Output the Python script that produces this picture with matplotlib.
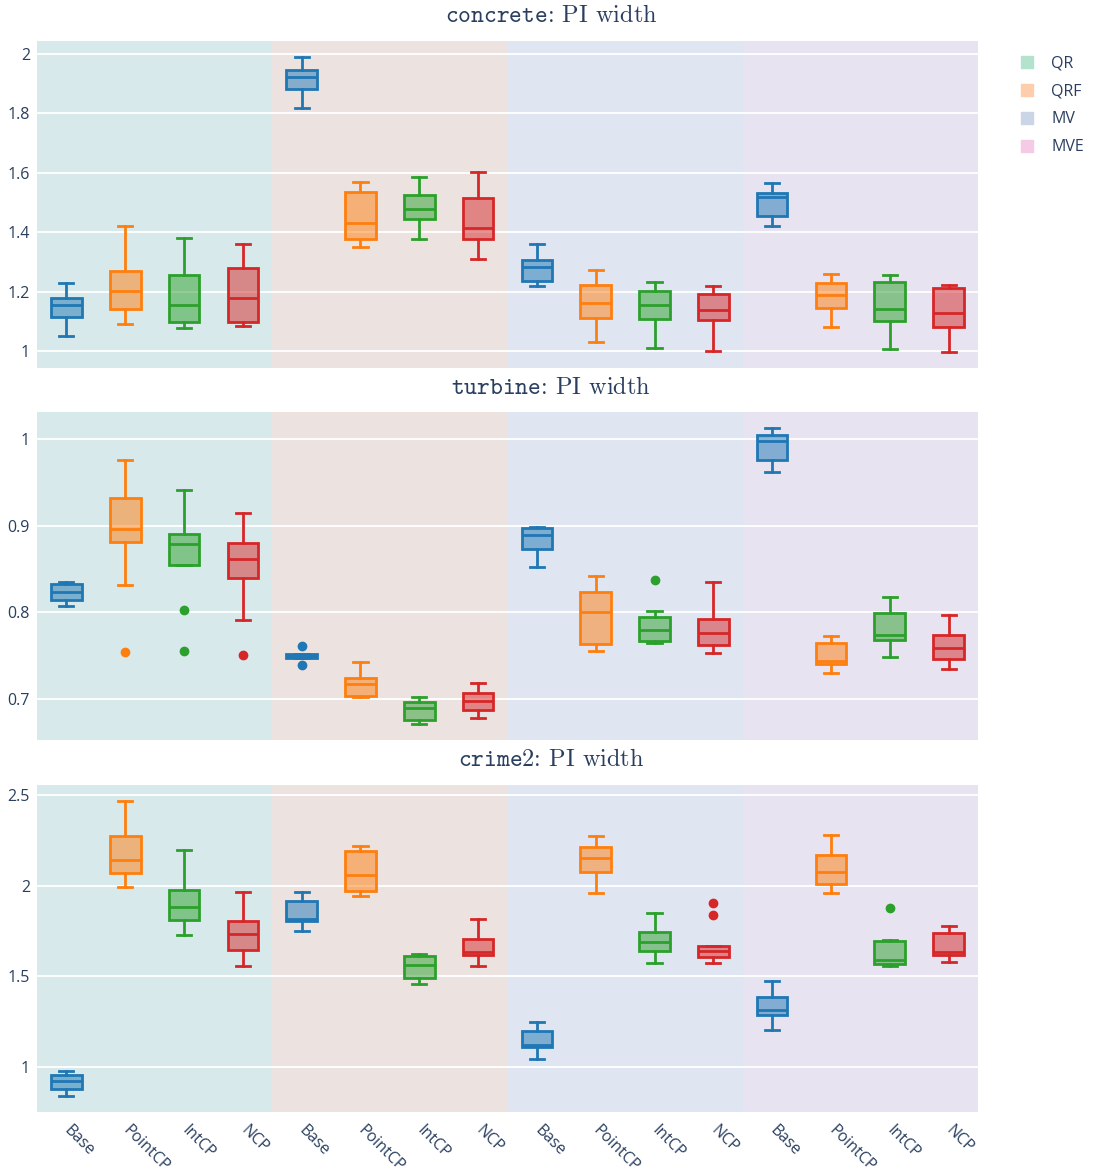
import matplotlib
matplotlib.use("Agg")
import matplotlib.pyplot as plt
from matplotlib.lines import Line2D
from matplotlib.colors import to_rgba
import matplotlib.ticker as mticker

plt.rcParams['font.family'] = ['Open Sans', 'DejaVu Sans']
plt.rcParams['mathtext.fontset'] = 'cm'

groups = ["QR", "QRF", "MV", "MVE"]
methods = ["Base", "PointCP", "IntCP", "NCP"]
group_bg = ["#d7e9ea", "#ece3e1", "#dfe5f1", "#e7e3f0"]
legend_colors = ["#b3e2cd", "#fdcdac", "#cbd5e8", "#f4cae4"]
method_colors = ["#1f77b4", "#ff7f0e", "#2ca02c", "#d62728"]

datasets = ["concrete", "turbine", "crime2"]

# each row: (whislo, q1, median, q3, whishi), order QR(Base,PointCP,IntCP,NCP), QRF(...), MV(...), MVE(...)
concrete_stats = [
    (1.050, 1.114, 1.155, 1.179, 1.230),
    (1.091, 1.140, 1.202, 1.269, 1.422),
    (1.077, 1.099, 1.154, 1.255, 1.382),
    (1.083, 1.098, 1.180, 1.281, 1.359),
    (1.818, 1.881, 1.923, 1.947, 1.989),
    (1.350, 1.376, 1.430, 1.534, 1.570),
    (1.377, 1.444, 1.478, 1.525, 1.587),
    (1.311, 1.377, 1.416, 1.515, 1.602),
    (1.219, 1.237, 1.284, 1.306, 1.359),
    (1.029, 1.113, 1.162, 1.221, 1.272),
    (1.009, 1.107, 1.155, 1.202, 1.231),
    (1.001, 1.104, 1.138, 1.193, 1.220),
    (1.420, 1.456, 1.520, 1.531, 1.565),
    (1.082, 1.144, 1.190, 1.228, 1.259),
    (1.008, 1.101, 1.141, 1.233, 1.255),
    (0.998, 1.082, 1.127, 1.213, 1.221),
]
concrete_fliers = [[] for _ in range(16)]

turbine_stats = [
    (0.807, 0.814, 0.824, 0.833, 0.835),
    (0.832, 0.881, 0.896, 0.932, 0.976),
    (0.855, 0.855, 0.879, 0.890, 0.941),
    (0.791, 0.840, 0.862, 0.880, 0.915),
    (0.747, 0.747, 0.750, 0.752, 0.752),
    (0.702, 0.704, 0.717, 0.725, 0.743),
    (0.672, 0.676, 0.690, 0.697, 0.703),
    (0.678, 0.688, 0.698, 0.707, 0.719),
    (0.852, 0.873, 0.889, 0.897, 0.899),
    (0.755, 0.764, 0.800, 0.823, 0.842),
    (0.765, 0.767, 0.780, 0.795, 0.802),
    (0.753, 0.763, 0.776, 0.793, 0.835),
    (0.962, 0.976, 0.998, 1.005, 1.013),
    (0.730, 0.741, 0.744, 0.765, 0.773),
    (0.749, 0.768, 0.774, 0.799, 0.818),
    (0.735, 0.746, 0.759, 0.774, 0.797),
]
turbine_fliers = [[], [0.754], [0.803, 0.756], [0.751],
                  [0.761, 0.739], [], [], [],
                  [], [], [0.837], [],
                  [], [], [], []]

crime2_stats = [
    (0.838, 0.879, 0.921, 0.958, 0.980),
    (1.994, 2.068, 2.143, 2.276, 2.465),
    (1.728, 1.813, 1.882, 1.974, 2.195),
    (1.555, 1.643, 1.735, 1.805, 1.967),
    (1.752, 1.803, 1.818, 1.917, 1.963),
    (1.941, 1.969, 2.057, 2.191, 2.217),
    (1.460, 1.493, 1.562, 1.612, 1.623),
    (1.559, 1.616, 1.636, 1.704, 1.818),
    (1.044, 1.108, 1.123, 1.200, 1.250),
    (1.960, 2.074, 2.154, 2.213, 2.274),
    (1.574, 1.640, 1.689, 1.744, 1.849),
    (1.574, 1.605, 1.640, 1.669, 1.669),
    (1.206, 1.289, 1.313, 1.388, 1.474),
    (1.960, 2.011, 2.075, 2.169, 2.279),
    (1.555, 1.568, 1.590, 1.693, 1.699),
    (1.579, 1.616, 1.634, 1.739, 1.779),
]
crime2_fliers = [[], [], [], [],
                 [], [], [], [],
                 [], [], [], [1.904, 1.836],
                 [], [], [1.879], []]

all_stats = [concrete_stats, turbine_stats, crime2_stats]
all_fliers = [concrete_fliers, turbine_fliers, crime2_fliers]
ylims = [(0.943, 2.044), (0.653, 1.031), (0.752, 2.555)]
yticks = [[1, 1.2, 1.4, 1.6, 1.8, 2], [0.7, 0.8, 0.9, 1], [1, 1.5, 2, 2.5]]

W, H = 1102, 1174
fig = plt.figure(figsize=(W / 100, H / 100), dpi=100)
text_color = "#2a3f5f"

panels = [(41, 368), (412, 740), (785, 1112)]
left_px, right_px = 37, 978
title_y = [16, 388, 760]

xlabels = [m for g in groups for m in methods]

for p in range(3):
    top, bot = panels[p]
    ax = fig.add_axes([left_px / W, 1 - bot / H, (right_px - left_px) / W, (bot - top) / H])
    ax.set_xlim(-0.5, 15.5)
    ax.set_ylim(*ylims[p])
    for gi in range(4):
        ax.axvspan(gi * 4 - 0.5, gi * 4 + 3.5, color=group_bg[gi], lw=0, zorder=0)
    for yt in yticks[p]:
        ax.axhline(yt, color="white", lw=1.3, zorder=0.5)
    for s in ax.spines.values():
        s.set_visible(False)
    for i in range(16):
        c = method_colors[i % 4]
        lo, q1, med, q3, hi = all_stats[p][i]
        st = dict(whislo=lo, q1=q1, med=med, q3=q3, whishi=hi, fliers=all_fliers[p][i])
        ax.bxp([st], positions=[i], widths=0.52, capwidths=0.24, patch_artist=True,
               manage_ticks=False,
               boxprops=dict(facecolor=to_rgba(c, 0.5), edgecolor=c, linewidth=2),
               medianprops=dict(color=c, linewidth=2),
               whiskerprops=dict(color=c, linewidth=2),
               capprops=dict(color=c, linewidth=2),
               flierprops=dict(marker='o', markerfacecolor=c, markeredgecolor=c,
                               markersize=6, linestyle='none'),
               zorder=3)
    ax.set_yticks(yticks[p])
    ax.yaxis.set_major_formatter(mticker.FormatStrFormatter('%g'))
    ax.tick_params(axis='y', length=0, pad=5, labelsize=11.5, labelcolor=text_color)
    ax.set_xticks(range(16))
    if p == 2:
        ax.set_xticklabels(xlabels, rotation=-45, ha='left', va='center',
                           rotation_mode='anchor', fontsize=11.5, color=text_color)
        ax.tick_params(axis='x', length=0, pad=12)
    else:
        ax.set_xticklabels([])
        ax.tick_params(axis='x', length=0)
    fig.text(0.5, 1 - title_y[p] / H,
             r"$\mathtt{" + datasets[p] + r"}$: PI width",
             family='cmr10', ha='center', va='center', fontsize=17.5, color=text_color)

handles = [Line2D([], [], marker='s', linestyle='none', markersize=8,
                  markerfacecolor=c, markeredgecolor=c) for c in legend_colors]
fig.legend(handles, groups, loc='upper left', bbox_to_anchor=(1005 / W, 1 - 41 / H),
           frameon=False, fontsize=11.5, labelcolor=text_color, handletextpad=1.0,
           labelspacing=0.75, handlelength=1.0)

fig.savefig("out.png", dpi=100)
